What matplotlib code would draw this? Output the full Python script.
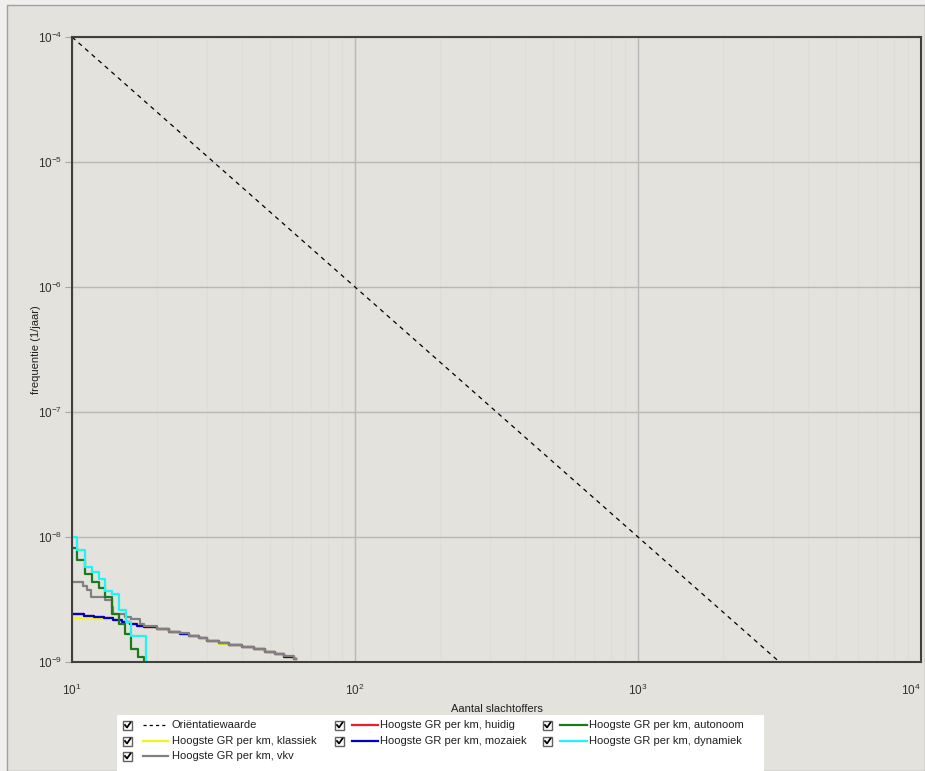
import math
import matplotlib
matplotlib.use('Agg')
import matplotlib.pyplot as plt
from matplotlib.patches import Rectangle
from matplotlib.lines import Line2D
from matplotlib.ticker import LogLocator, FuncFormatter, NullFormatter

plt.rcParams['font.family'] = ['Liberation Sans', 'DejaVu Sans']
plt.rcParams['mathtext.fontset'] = 'custom'
plt.rcParams['mathtext.rm'] = 'Liberation Sans'

# Gegevens

# Oriëntatiewaarde: F = 1e-2 / N^2
orient_n = [10, 10000]
orient_f = [1e-4, 1e-10]

# Hoogste GR per km, mozaiek
mozaiek_n = [10, 11, 12, 13, 14, 15, 16, 17, 18, 20, 22, 24, 26, 28, 30, 33, 36, 40, 44, 48, 52, 56, 61, 62]
mozaiek_f = [2.40e-9, 2.34e-9, 2.29e-9, 2.24e-9, 2.16e-9, 2.09e-9, 2.00e-9, 1.95e-9, 1.91e-9, 1.82e-9,
             1.74e-9, 1.68e-9, 1.62e-9, 1.55e-9, 1.48e-9, 1.41e-9, 1.36e-9, 1.32e-9, 1.26e-9, 1.20e-9,
             1.15e-9, 1.10e-9, 1.05e-9, 1.05e-9]

# Hoogste GR per km, huidig (valt samen met mozaiek)
huidig_n = mozaiek_n
huidig_f = mozaiek_f

# Hoogste GR per km, klassiek
klassiek_n = [10, 11, 12, 13, 14, 15, 16, 17, 18, 20, 22, 24, 26, 28, 30, 33, 36, 40, 44, 48, 52, 56, 61, 62]
klassiek_f = [2.26e-9, 2.24e-9, 2.21e-9, 2.20e-9, 2.15e-9, 2.08e-9, 2.00e-9, 1.95e-9, 1.90e-9, 1.82e-9,
              1.73e-9, 1.67e-9, 1.60e-9, 1.53e-9, 1.46e-9, 1.40e-9, 1.36e-9, 1.31e-9, 1.26e-9, 1.20e-9,
              1.15e-9, 1.10e-9, 1.05e-9, 1.05e-9]

# Hoogste GR per km, autonoom
autonoom_n = [10, 10.4, 11.1, 11.8, 12.5, 13.1, 13.8, 14.6, 15.4, 16.2, 17.1, 17.9]
autonoom_f = [8.2e-9, 6.6e-9, 5.1e-9, 4.4e-9, 3.9e-9, 3.3e-9, 2.4e-9, 2.0e-9, 1.66e-9, 1.26e-9, 1.10e-9, 1.0e-9]

# Hoogste GR per km, dynamiek
dynamiek_n = [10, 10.4, 11.1, 11.8, 12.5, 13.1, 13.8, 14.6, 15.5, 16.2, 18.3]
dynamiek_f = [1.0e-8, 7.8e-9, 5.8e-9, 5.2e-9, 4.6e-9, 3.7e-9, 3.5e-9, 2.6e-9, 2.1e-9, 1.6e-9, 1.0e-9]

# Hoogste GR per km, vkv
vkv_n = [10, 10.9, 11.3, 11.7, 13.1, 13.8, 14.0, 15.4, 16.2, 17.4, 18, 20, 22, 24, 26, 28, 30, 33, 36,
         40, 44, 48, 52, 56, 61, 62]
vkv_f = [4.37e-9, 4.07e-9, 3.80e-9, 3.31e-9, 3.16e-9, 2.75e-9, 2.40e-9, 2.29e-9, 2.19e-9, 2.00e-9,
         1.93e-9, 1.84e-9, 1.74e-9, 1.70e-9, 1.62e-9, 1.57e-9, 1.48e-9, 1.43e-9, 1.36e-9, 1.32e-9,
         1.27e-9, 1.20e-9, 1.16e-9, 1.11e-9, 1.05e-9, 1.05e-9]

x_ticks = [10, 100, 1000, 10000]
y_ticks = [1e-9, 1e-8, 1e-7, 1e-6, 1e-5, 1e-4]

legend_labels = ['Oriëntatiewaarde', 'Hoogste GR per km, huidig', 'Hoogste GR per km, autonoom',
                 'Hoogste GR per km, klassiek', 'Hoogste GR per km, mozaiek', 'Hoogste GR per km, dynamiek',
                 'Hoogste GR per km, vkv']
legend_colors = ['black', '#e8202a', '#1b7a1b', '#f4f418', '#0000c8', '#20f4f4', '#808080']

W, H = 925, 771
panel = '#e4e2dd'

fig = plt.figure(figsize=(W / 100, H / 100), dpi=100, facecolor='#f0efed')


def px(x, y):
    return x / W, 1 - y / H


# paneel met rand
fig.patches.append(Rectangle(px(7, H), (W - 7) / W, (H - 5) / H, transform=fig.transFigure,
                             facecolor=panel, edgecolor='#a0a0a0', lw=1, zorder=-1))

ax = fig.add_axes([72 / W, 1 - 662 / H, (921 - 72) / W, (662 - 37) / H])
ax.set_zorder(1)
ax.set_facecolor(panel)
ax.set_xscale('log')
ax.set_yscale('log')
ax.set_xlim(10, 1e4)
ax.set_ylim(1e-9, 1e-4)
ax.set_xticks(x_ticks)
ax.set_yticks(y_ticks)

ax.grid(True, which='major', color='#b8b8b8', lw=1)
ax.grid(True, which='minor', axis='x', color='#dfddd8', lw=1)
ax.xaxis.set_minor_locator(LogLocator(base=10, subs=range(2, 10)))
ax.xaxis.set_minor_formatter(NullFormatter())
ax.yaxis.set_minor_formatter(NullFormatter())
ax.set_axisbelow(True)

fmt = FuncFormatter(lambda v, p: r'$\mathregular{10^{%d}}$' % round(math.log10(v)))
ax.xaxis.set_major_formatter(fmt)
ax.yaxis.set_major_formatter(fmt)
ax.tick_params(axis='x', which='major', length=0, pad=15, labelsize=8.5, colors='#303030')
ax.tick_params(axis='y', which='major', length=5, pad=2, labelsize=8.5, color='#a8a8a8', labelcolor='#303030')
ax.tick_params(which='minor', length=0)
# laatste label tegen de rand
ax.xaxis.get_major_ticks()[-1].label1.set_horizontalalignment('right')

for s in ax.spines.values():
    s.set_color('#404040')
    s.set_linewidth(1.5)

ax.plot(orient_n, orient_f, color='black', lw=0.9, ls=(0, (3.5, 3.5)))
ax.step(huidig_n, huidig_f, where='post', color=legend_colors[1], lw=1.6)
ax.step(klassiek_n, klassiek_f, where='post', color=legend_colors[3], lw=1.6)
ax.step(mozaiek_n, mozaiek_f, where='post', color=legend_colors[4], lw=1.6)
ax.step(vkv_n, vkv_f, where='post', color=legend_colors[6], lw=1.6)
ax.step(autonoom_n, autonoom_f, where='post', color=legend_colors[2], lw=1.6)
ax.step(dynamiek_n, dynamiek_f, where='post', color=legend_colors[5], lw=1.6)

ax.set_xlabel('Aantal slachtoffers', fontsize=8, color='#202020')
ax.xaxis.set_label_coords(0.5, -0.067)
ax.set_ylabel('frequentie (1/jaar)', fontsize=8, color='#202020')
ax.yaxis.set_label_coords(-0.036, 0.5)

# legenda met selectievakjes
fig.patches.append(Rectangle(px(117, H), (764 - 117) / W, (H - 715) / H, transform=fig.transFigure,
                             facecolor='white', edgecolor='none', zorder=2))
cols = [(123, 143, 168, 172), (335, 352, 378, 380), (543, 560, 587, 589)]
rows = [725, 741, 756]
for i, (lab, col) in enumerate(zip(legend_labels, legend_colors)):
    cb, l0, l1, tx = cols[i % 3]
    ry = rows[i // 3]
    fig.patches.append(Rectangle(px(cb, ry + 4.5), 9 / W, 9 / H, transform=fig.transFigure,
                                 facecolor='white', edgecolor='#606060', lw=1.0, zorder=3))
    cx = [px(cb + 2, ry)[0], px(cb + 4, ry + 2.5)[0], px(cb + 7.5, ry - 2.5)[0]]
    cy = [px(cb + 2, ry)[1], px(cb + 4, ry + 2.5)[1], px(cb + 7.5, ry - 2.5)[1]]
    fig.lines.append(Line2D(cx, cy, transform=fig.transFigure, color='black', lw=1.3, zorder=4))
    ls = (0, (2.5, 2.5)) if i == 0 else '-'
    lw = 0.9 if i == 0 else 1.6
    fig.lines.append(Line2D([px(l0, ry)[0], px(l1, ry)[0]], [px(l0, ry)[1], px(l1, ry)[1]],
                            transform=fig.transFigure, color=col, lw=lw, ls=ls, zorder=4))
    fig.text(*px(tx, ry), lab, fontsize=8, va='center', ha='left', color='#202020', zorder=4)

fig.savefig('out.png', dpi=100, facecolor=fig.get_facecolor())
